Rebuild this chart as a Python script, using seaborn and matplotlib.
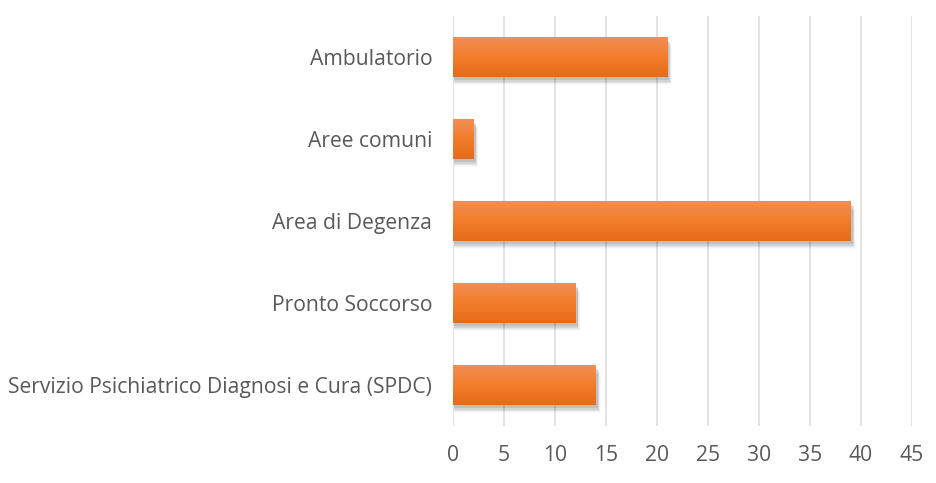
import numpy as np
import pandas as pd
import matplotlib
matplotlib.use("Agg")
import matplotlib.pyplot as plt
import seaborn as sns
from matplotlib.patches import Rectangle
from matplotlib.colors import LinearSegmentedColormap

categories = ["Ambulatorio", "Aree comuni", "Area di Degenza", "Pronto Soccorso",
              "Servizio Psichiatrico Diagnosi e Cura (SPDC)"]
values = [21, 2, 39, 12, 14]
xticks = [0, 5, 10, 15, 20, 25, 30, 35, 40, 45]

sns.set_theme(style="white")
plt.rcParams['font.family'] = ['Open Sans', 'DejaVu Sans']

df = pd.DataFrame({"cat": categories, "val": values})

fig = plt.figure(figsize=(9.37, 4.83), dpi=100)
ax = fig.add_axes([0.4835, 0.118, 0.4898, 0.849])
sns.barplot(data=df, x="val", y="cat", orient="h", color="#F07B2A", width=0.48, ax=ax,
            saturation=1, zorder=3)

ax.set_xlim(0, 45)
ax.set_ylim(len(categories) - 0.5, -0.5)
ax.set_xticks(xticks)
ax.set_xlabel("")
ax.set_ylabel("")
for s in ax.spines.values():
    s.set_visible(False)
ax.grid(axis="x", color="#e0e0e0", linewidth=1.3, zorder=0)
ax.grid(axis="y", visible=False)
ax.tick_params(axis="both", length=0, labelsize=15.2, colors="#595959")
ax.tick_params(axis="y", pad=15)
ax.tick_params(axis="x", pad=14)

cmap = LinearSegmentedColormap.from_list("g", ["#F28E55", "#F27D2B", "#E56B18"])
grad = np.linspace(0, 1, 100).reshape(-1, 1)
for p in list(ax.patches):
    x0, y0 = p.get_x(), p.get_y()
    w, h = p.get_width(), p.get_height()
    # soft shadow
    for i, a in enumerate([0.09, 0.07, 0.05, 0.035, 0.02]):
        d = (i + 1) * 0.015
        ax.add_patch(Rectangle((x0 + 0.1, y0 + 0.03 + d), w + 0.12 + i * 0.06, h,
                               facecolor="#000000", alpha=a, edgecolor="none", zorder=2))
    p.set_facecolor("none")
    p.set_edgecolor("none")
    im = ax.imshow(grad, extent=(x0, x0 + w, y0 + h, y0), aspect="auto", cmap=cmap,
                   zorder=4, origin="upper")
    im.set_clip_path(p)

ax.set_xlim(0, 45)
ax.set_ylim(len(categories) - 0.5, -0.5)
fig.savefig("out.png", dpi=100)
